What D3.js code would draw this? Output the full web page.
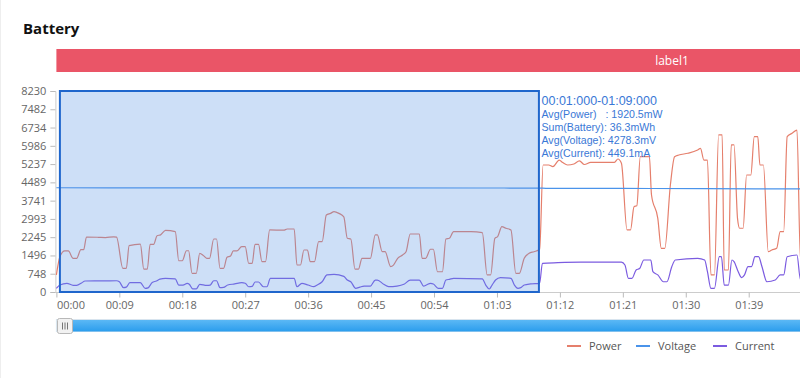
<!DOCTYPE html>
<html>
<head>
<meta charset="utf-8">
<script src="https://cdn.jsdelivr.net/npm/d3@7/dist/d3.min.js"></script>
<style>
  html, body { margin: 0; padding: 0; background: #fff; }
  svg { display: block; font-family: "Open Sans", "Noto Sans", sans-serif; }
</style>
</head>
<body>
<svg id="chart" width="800" height="378"></svg>
<script>
// ---------------- data ----------------
const title = "Battery";
const bandLabel = "label1";
const seriesNames = ["Power", "Voltage", "Current"];
const yTickLabels = ["0","748","1496","2245","2993","3741","4489","5237","5986","6734","7482","8230"];
const yMax = 8230;
const xTickSeconds = [0, 9, 18, 27, 36, 45, 54, 63, 72, 81, 90, 99];
const brushRange = [0.5, 69];
const tooltipLines = [
  "00:01:000-01:09:000",
  "Avg(Power)   : 1920.5mW",
  "Sum(Battery): 36.3mWh",
  "Avg(Voltage): 4278.3mV",
  "Avg(Current): 449.1mA"
];

const powerTimes = [0,0.5,1.2,1.7,2.4,2.9,3.5,3.9,4.3,6,7,8.2,8.6,9.5,10,10.4,12,12.5,13,13.4,13.9,14.4,14.9,15.6,17,17.5,18,18.6,18.9,19.4,20,20.5,21,21.5,21.9,22.5,22.9,23.4,23.9,24.4,24.9,25.3,25.8,26.5,27,27.5,28,28.4,28.9,29.4,29.9,30.5,32.5,33,34,34.4,34.9,35.4,35.9,36.3,36.9,37.5,38,38.6,39.2,39.7,40.4,41.1,41.6,42.1,42.7,43.2,43.7,44.9,45.6,45.9,46.6,47,47.8,48.2,48.8,49.5,50,50.6,51.9,52.3,52.8,53.5,53.9,54.5,55.2,55.7,56.2,56.8,59.3,60.9,61.6,62.1,62.7,63.1,63.7,64.3,65,65.7,66.2,66.9,67.6,68.3,69.1,69.6,70.4,71,71.9,72.4,73.1,74,74.8,75.5,76.4,79.8,80.3,80.8,81.6,82.1,82.6,83,83.5,84.8,85.1,86,86.5,87,87.8,88.4,89,90.3,91.7,92.1,92.6,93.1,93.6,94.1,94.7,95.2,95.5,96.1,96.5,96.9,97.4,97.7,98.2,98.7,99.3,99.8,100.3,100.6,101.1,101.8,102.3,103,103.5,104,104.5,105.2,105.9,106.4,108];
const powerValues = [700,1446,1680,1680,1380,1380,1733,1733,2250,2240,2230,2260,2250,970,970,1896,1960,940,940,1950,1950,2305,2340,2525,2470,1280,1280,1690,1690,765,765,1585,1500,1380,1380,2170,2170,970,970,1420,1470,1680,1680,1855,1855,1175,1175,1950,1950,1240,1240,2540,2530,2580,2580,1105,1105,1720,1720,1240,1240,2060,2060,3150,3220,3290,3220,3080,2200,2170,940,940,1380,1380,2335,2335,1650,1650,1036,1100,1380,1515,1650,2375,2375,1380,1380,1750,1750,830,830,2170,2200,2470,2470,2430,700,700,2200,2270,2675,2610,2540,765,765,1380,1585,1650,1750,5200,5200,5130,5400,5300,5200,5240,5365,5220,5310,5310,5445,5270,2540,2540,3495,3530,5540,5540,3970,3015,1790,1790,4380,5540,5610,5680,5815,5880,5400,5400,700,700,6430,6430,900,900,6020,6020,3015,2610,2610,4790,4790,6360,6360,5200,5200,1650,1720,1790,2470,2470,6360,6500,6630,1330,1330];

const currentTimes = [0,0.5,1.5,2.4,2.9,3.6,4.1,6,8.6,9,9.6,10,10.5,12,12.7,13.1,13.7,14.3,14.8,15.6,17,17.5,18.1,18.7,19,19.5,20,20.5,21.5,22,22.5,22.9,23.4,23.9,24.5,25.5,26.5,27,27.5,28,28.4,28.9,29.6,30.1,30.6,34,34.4,35.1,36,36.8,37.3,38,38.7,39.7,41.1,41.6,42.1,42.8,43.4,44,44.9,45.6,45.9,46.8,47.5,48.7,49.7,50.6,51.9,52.5,52.9,53.5,53.9,54.6,55.2,55.7,56.2,56.8,60.9,61.4,61.9,62.3,62.8,63.5,65,65.5,66,66.4,66.9,67.8,69.1,69.5,71.7,75,80.8,81.3,81.8,82.3,82.9,83.4,84,85,85.3,86,86.8,87.3,88,88.5,91.7,92.7,93.1,93.6,94.1,94.8,95.1,95.5,96.1,96.6,96.9,97.5,98,98.4,98.9,99.4,99.9,100.4,100.9,101.6,102.8,103.5,104,104.5,105.9,106.4,108];
const currentValues = [150,285,355,275,275,370,450,455,460,420,178,200,380,380,150,170,390,450,530,560,540,285,285,355,320,125,125,315,270,285,460,460,178,190,285,330,380,360,215,230,410,410,215,215,560,560,217,355,285,217,285,420,700,720,640,490,420,150,200,240,240,490,490,315,217,240,315,490,490,240,285,355,330,150,150,490,520,560,540,285,123,285,490,590,560,285,150,178,285,330,355,1175,1200,1220,1220,1105,560,560,900,960,1310,1310,830,700,420,420,1036,1310,1380,1310,830,150,150,1445,1445,285,285,1310,1240,830,590,700,1036,1036,1445,1445,1036,420,490,700,700,1445,1515,510,510];

const voltageTimes = [0, 20, 40, 60, 69, 70, 85, 100, 108];
const voltageValues = [4268, 4266, 4262, 4258, 4256, 4245, 4238, 4225, 4220];

// ---------------- layout ----------------
const W = 800, H = 378;
const plot = { left: 56.4, top: 91, bottom: 292, right: 800 };
const pxPerSec = 6.993;
const colors = { Power: "#e57f6c", Voltage: "#4a93ea", Current: "#7b5be0" };

const svg = d3.select("#chart");

const x = d3.scaleLinear().domain([0, 108]).range([plot.left, plot.left + 108 * pxPerSec]);
const y = d3.scaleLinear().domain([0, yMax]).range([plot.bottom, plot.top]);

// faint container edge
svg.append("line").attr("x1", 0.5).attr("x2", 0.5).attr("y1", 0).attr("y2", H)
  .attr("stroke", "#eeeeee");

// title
svg.append("text").attr("x", 23).attr("y", 34)
  .attr("font-size", 15).attr("font-weight", "bold").attr("fill", "#111")
  .text(title);

// label band
svg.append("rect").attr("x", plot.left).attr("y", 49).attr("width", W - plot.left).attr("height", 23)
  .attr("fill", "#ea5567");
svg.append("text").attr("x", 672).attr("y", 60.5).attr("dy", "0.35em")
  .attr("text-anchor", "middle").attr("font-size", 12).attr("fill", "#fff")
  .text(bandLabel);

// clip
svg.append("defs").append("clipPath").attr("id", "clip")
  .append("rect").attr("x", plot.left - 2).attr("y", plot.top - 10)
  .attr("width", W - plot.left + 2).attr("height", plot.bottom - plot.top + 12);

// y axis
const yTicks = yTickLabels.map((l, i) => i * yMax / 11);
const yAxis = d3.axisLeft(y).tickValues(yTicks).tickSize(5).tickPadding(4)
  .tickFormat((d, i) => yTickLabels[i]);
const gy = svg.append("g").attr("transform", `translate(${plot.left - 1},0)`).call(yAxis);
gy.select(".domain").attr("stroke", "#cccccc");
gy.selectAll(".tick line").attr("stroke", "#bbbbbb");
gy.selectAll(".tick text").attr("fill", "#666").attr("font-size", 11)
  .attr("font-family", "'Open Sans', 'Noto Sans', sans-serif");

// x axis
const fmt = s => String(Math.floor(s / 60)).padStart(2, "0") + ":" + String(s % 60).padStart(2, "0");
const xAxis = d3.axisBottom(x).tickValues(xTickSeconds).tickSize(5).tickPadding(4).tickFormat(fmt);
const gx = svg.append("g").attr("transform", `translate(0,${plot.bottom + 0.5})`).call(xAxis);
gx.select(".domain").attr("stroke", "#cccccc").attr("d", `M${plot.left - 1},0H${W}`);
gx.selectAll(".tick line").attr("stroke", "#bbbbbb");
gx.selectAll(".tick text").attr("fill", "#666").attr("font-size", 11)
  .attr("font-family", "'Open Sans', 'Noto Sans', sans-serif");
gx.selectAll(".tick").filter(d => d === 0).select("text").attr("text-anchor", "start");

// lines
const series = [
  { name: "Power", t: powerTimes, v: powerValues },
  { name: "Voltage", t: voltageTimes, v: voltageValues },
  { name: "Current", t: currentTimes, v: currentValues }
];
const line = d3.line().x(d => x(d[0])).y(d => y(d[1])).curve(d3.curveMonotoneX);
const gl = svg.append("g").attr("clip-path", "url(#clip)");
series.forEach(s => {
  gl.append("path")
    .datum(s.t.map((t, i) => [t, s.v[i]]))
    .attr("fill", "none").attr("stroke", colors[s.name]).attr("stroke-width", 1.2)
    .attr("d", line);
});

// brush selection overlay
svg.append("rect")
  .attr("x", x(brushRange[0])).attr("y", plot.top)
  .attr("width", x(brushRange[1]) - x(brushRange[0])).attr("height", plot.bottom - plot.top)
  .attr("fill", "rgba(90,150,230,0.3)").attr("stroke", "#1f66cc").attr("stroke-width", 2);

// tooltip text (separate lines, compact line box)
tooltipLines.forEach((l, i) => {
  svg.append("text").attr("x", 541.5).attr("y", i === 0 ? 104.5 : 105.5 + i * 12.8)
    .attr("fill", "#3a78d6")
    .attr("font-family", "'Liberation Sans', Arial, sans-serif")
    .attr("font-size", i === 0 ? 12.5 : 10.6)
    .attr("xml:space", "preserve").style("white-space", "pre").text(l);
});

// data zoom slider
const sl = svg.append("g");
sl.append("rect").attr("x", plot.left).attr("y", 319.5).attr("width", W - plot.left).attr("height", 12)
  .attr("fill", "#e8f2fb").attr("stroke", "#d8e4ee");
const grad = svg.select("defs").append("linearGradient").attr("id", "sg").attr("x1", 0).attr("x2", 0).attr("y1", 0).attr("y2", 1);
grad.append("stop").attr("offset", "0%").attr("stop-color", "#5bb8f5");
grad.append("stop").attr("offset", "100%").attr("stop-color", "#2b9ded");
sl.append("rect").attr("x", 66).attr("y", 320).attr("width", W - 66).attr("height", 11.5)
  .attr("fill", "url(#sg)");
sl.append("rect").attr("x", 57.5).attr("y", 318.5).attr("width", 15).attr("height", 15).attr("rx", 2)
  .attr("fill", "#f2f2f2").attr("stroke", "#b8b8b8");
[62.5, 65, 67.5].forEach(gx0 => {
  sl.append("line").attr("x1", gx0).attr("x2", gx0).attr("y1", 322.5).attr("y2", 329.5)
    .attr("stroke", "#777").attr("stroke-width", 1);
});

// legend
const legendX = { Power: 567, Voltage: 636, Current: 713 };
seriesNames.forEach(n => {
  const g = svg.append("g").attr("transform", `translate(${legendX[n]},346)`);
  g.append("line").attr("x1", 0).attr("x2", 14).attr("y1", 0).attr("y2", 0)
    .attr("stroke", colors[n]).attr("stroke-width", 2);
  g.append("text").attr("x", 22).attr("y", 0).attr("dy", "0.35em")
    .attr("font-size", 11).attr("fill", "#555").text(n);
});
</script>
</body>
</html>
